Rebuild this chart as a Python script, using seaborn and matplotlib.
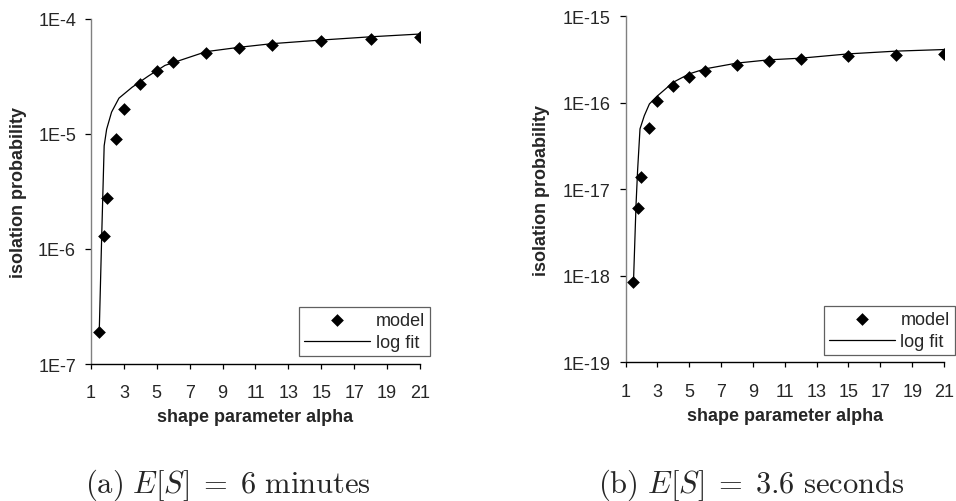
import numpy as np
import pandas as pd
import matplotlib
matplotlib.use("Agg")
import matplotlib.pyplot as plt
import seaborn as sns
from matplotlib.ticker import FixedLocator, FuncFormatter, NullLocator

# model points
alpha = [1.5, 1.8, 2, 2.5, 3, 4, 5, 6, 8, 10, 12, 15, 18, 21]
model_a = [1.9e-7, 1.3e-6, 2.8e-6, 9.0e-6, 1.66e-5, 2.7e-5, 3.55e-5, 4.2e-5,
           5.06e-5, 5.56e-5, 5.99e-5, 6.4e-5, 6.7e-5, 6.97e-5]
model_b = [8.4e-19, 6.1e-18, 1.4e-17, 5.1e-17, 1.04e-16, 1.56e-16, 2.0e-16,
           2.34e-16, 2.77e-16, 3.08e-16, 3.23e-16, 3.52e-16, 3.59e-16, 3.68e-16]

# log fit curves
fit_a_x = [1.5, 1.65, 1.8, 1.95, 2.25, 2.7, 3.5, 4.5, 5.5, 8, 10, 12, 15, 18, 21]
fit_a_y = [1.9e-7, 1.3e-6, 7.9e-6, 1.1e-5, 1.55e-5, 2.05e-5, 2.55e-5, 3.2e-5,
           3.95e-5, 5.2e-5, 5.67e-5, 6.1e-5, 6.56e-5, 7.0e-5, 7.4e-5]
fit_b_x = [1.5, 1.66, 1.76, 1.91, 2.18, 2.5, 3, 4, 5, 6, 8, 10, 12, 15, 18, 21]
fit_b_y = [8.4e-19, 6.6e-18, 1.67e-17, 5.0e-17, 7.1e-17, 9.7e-17, 1.2e-16,
           1.73e-16, 2.16e-16, 2.47e-16, 2.88e-16, 3.14e-16, 3.28e-16,
           3.68e-16, 3.96e-16, 4.13e-16]

x_ticks = [1, 3, 5, 7, 9, 11, 13, 15, 17, 19, 21]
y_ticks_a = [1e-7, 1e-6, 1e-5, 1e-4]
y_ticks_b = [1e-19, 1e-18, 1e-17, 1e-16, 1e-15]
captions = [r"$\mathrm{(a)}\ E[S]\;=\;6\ \mathrm{minutes}$",
            r"$\mathrm{(b)}\ E[S]\;=\;3.6\ \mathrm{seconds}$"]

sns.set_style("white")
plt.rcParams["font.family"] = ["Liberation Sans", "DejaVu Sans"]
plt.rcParams["mathtext.fontset"] = "cm"

fig = plt.figure(figsize=(9.56, 5.02), dpi=100)
ax_a = fig.add_axes([0.0952, 0.2729, 0.3441, 0.6873])
ax_b = fig.add_axes([0.6543, 0.2763, 0.3332, 0.6892])

panels = [
    (ax_a, model_a, fit_a_x, fit_a_y, y_ticks_a, -0.1954, -0.128, (0.3128, 0.3870)),
    (ax_b, model_b, fit_b_x, fit_b_y, y_ticks_b, -0.238, -0.130, (0.8616, 0.3890)),
]

for ax, model, fx, fy, yt, ylab_x, xlab_y, leg_pos in panels:
    df_model = pd.DataFrame({"alpha": alpha, "p": model})
    df_fit = pd.DataFrame({"alpha": fx, "p": fy})
    sns.lineplot(data=df_fit, x="alpha", y="p", ax=ax, color="black",
                 linewidth=0.9, estimator=None, label="log fit")
    sns.scatterplot(data=df_model, x="alpha", y="p", ax=ax, marker="D",
                    color="black", s=42, edgecolor="black", linewidth=0,
                    label="model", zorder=3)
    ax.set_yscale("log")
    ax.set_xlim(1, 21)
    ax.set_ylim(yt[0], yt[-1])
    ax.xaxis.set_major_locator(FixedLocator(x_ticks))
    ax.yaxis.set_major_locator(FixedLocator(yt))
    ax.yaxis.set_minor_locator(NullLocator())
    ax.yaxis.set_major_formatter(
        FuncFormatter(lambda v, pos: "1E%d" % int(round(np.log10(v)))))
    for side in ["top", "right"]:
        ax.spines[side].set_visible(False)
    ax.spines["left"].set_color("#808080")
    ax.spines["bottom"].set_color("black")
    ax.spines["left"].set_linewidth(1.0)
    ax.spines["bottom"].set_linewidth(1.0)
    ax.tick_params(axis="x", direction="out", length=3.6, width=0.9,
                   pad=11, labelsize=13, bottom=True, color="black")
    ax.tick_params(axis="y", direction="out", length=4.3, width=0.9,
                   pad=6.5, labelsize=13, left=True, color="black")
    ax.set_xlabel("shape parameter alpha", fontsize=13, fontweight="bold")
    ax.set_ylabel("isolation probability", fontsize=13, fontweight="bold")
    ax.yaxis.set_label_coords(ylab_x, 0.5)
    ax.xaxis.set_label_coords(0.5, xlab_y)

    handles, labels = ax.get_legend_handles_labels()
    order = [labels.index("model"), labels.index("log fit")]
    leg = ax.legend([handles[i] for i in order], [labels[i] for i in order],
                    loc="upper left", bbox_to_anchor=leg_pos,
                    bbox_transform=fig.transFigure, fontsize=13,
                    frameon=True, fancybox=False, framealpha=1,
                    handlelength=3.65, handletextpad=0.32, borderpad=0.28,
                    labelspacing=0.3, borderaxespad=0)
    leg.get_frame().set_edgecolor("#606060")
    leg.get_frame().set_linewidth(0.9)

fig.text(0.238, 0.018, captions[0], fontsize=22, ha="center", va="baseline")
fig.text(0.786, 0.018, captions[1], fontsize=22, ha="center", va="baseline")

fig.savefig("out.png", dpi=100)
